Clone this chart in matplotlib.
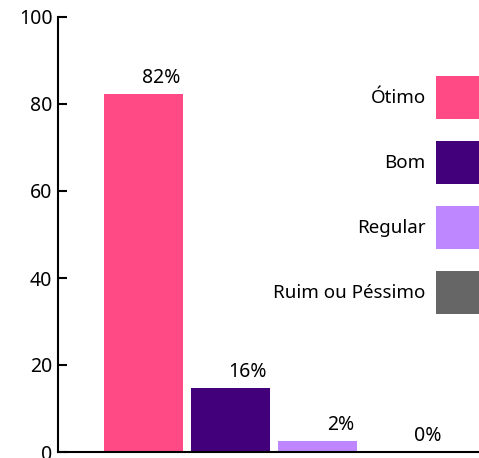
import matplotlib.pyplot as plt

categorias = ['Ótimo', 'Bom', 'Regular', 'Ruim ou Péssimo']
valores = [82.3, 14.7, 2.6, 0]
rotulos = ['82%', '16%', '2%', '0%']
cores = ['#ff4a85', '#42007a', '#bf87ff', '#666666']

plt.rcParams['font.family'] = ['Noto Sans', 'DejaVu Sans']
plt.rcParams['font.size'] = 14

fig = plt.figure(figsize=(4.79, 4.58), dpi=100)
ax = fig.add_axes([58 / 479, 6 / 458, 421 / 479, 435 / 458])

x = list(range(len(valores)))
barras = ax.bar(x, valores, width=0.908, color=cores, label=categorias)

# rotulos alinhados a direita da barra
for xi, v, r in zip(x, valores, rotulos):
    ax.annotate(r, (xi + 0.42, v), xytext=(0, 8), textcoords='offset points',
                ha='right', va='baseline', fontsize=14)

ax.set_xlim(-0.983, 3.856)
ax.set_ylim(0, 100)
ax.set_yticks([0, 20, 40, 60, 80, 100])
ax.set_xticks([])
ax.tick_params(axis='y', direction='in', length=6.5, width=1.5, pad=4,
               labelsize=14)

for s in ['top', 'right']:
    ax.spines[s].set_visible(False)
ax.spines['left'].set_linewidth(1.5)
ax.spines['bottom'].set_linewidth(1.5)

fs = 13.5
ax.legend(handles=barras, labels=categorias, loc='upper right',
          bbox_to_anchor=(1, 1 - 76 / 458), bbox_transform=fig.transFigure,
          frameon=False, markerfirst=False, borderpad=0, borderaxespad=0,
          handlelength=31 / fs, handleheight=(31 / fs - 0.245) / 0.65,
          handletextpad=0.55, labelspacing=15.8 / fs, fontsize=fs)

fig.savefig('out.png', dpi=100)
